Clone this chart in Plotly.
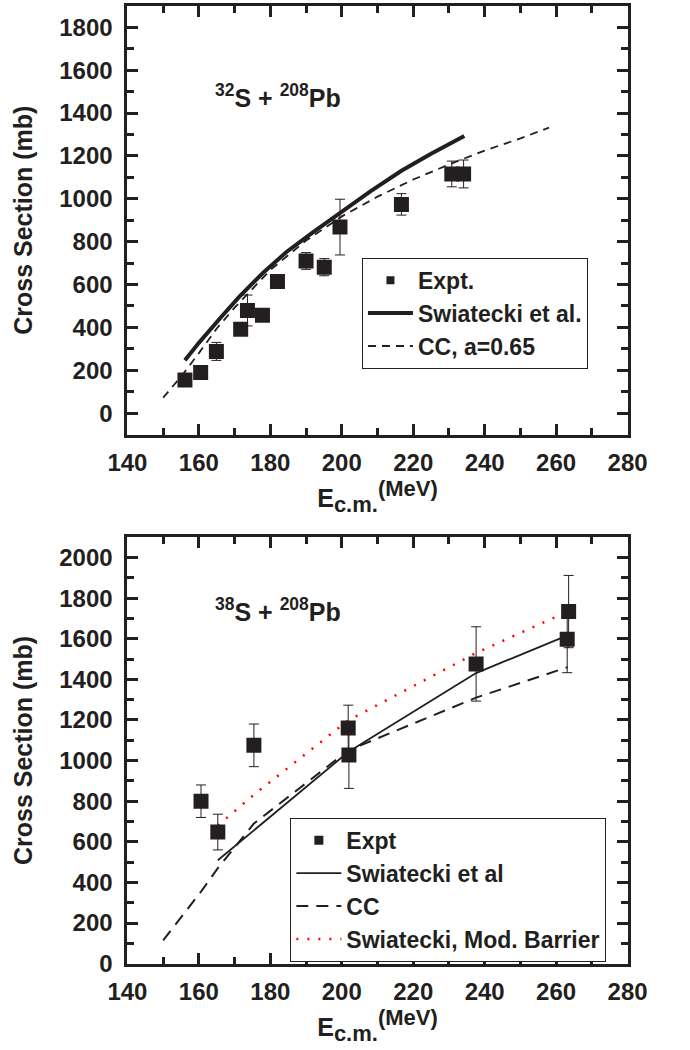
import plotly.graph_objects as go

# ---------------- data: top panel, 32S + 208Pb ----------------
e_exp_32 = [156.1, 160.5, 164.9, 171.7, 173.6, 177.8, 182.0, 190.0, 195.1, 199.5, 216.7, 230.8, 234.1]
sig_exp_32 = [155, 190, 288, 391, 479, 457, 614, 710, 681, 868, 974, 1116, 1116]
err_exp_32 = [0, 0, 42, 0, 72, 0, 0, 39, 40, 130, 50, 60, 65]

e_sw_32 = [156.1, 160.0, 166.0, 171.4, 178.0, 184.6, 192.0, 200.5, 208.0, 216.7, 225.0, 234.3]
sig_sw_32 = [247, 328, 444, 545, 655, 753, 845, 946, 1035, 1131, 1210, 1293]

e_cc_32 = [150, 155, 160, 165, 170, 180, 190, 200, 210, 220, 230, 240, 250, 258]
sig_cc_32 = [72, 170, 280, 395, 492, 668, 805, 918, 1010, 1090, 1160, 1225, 1282, 1332]

# ---------------- data: bottom panel, 38S + 208Pb ----------------
e_exp_38 = [160.6, 165.3, 175.4, 201.8, 202.0, 237.6, 263.5, 263.1]
sig_exp_38 = [800, 648, 1075, 1160, 1027, 1476, 1734, 1598]
err_exp_38 = [80, 88, 105, 113, 164, 183, 178, 165]

e_sw_38 = [165.3, 201.8, 237.6, 263.2]
sig_sw_38 = [509, 1042, 1431, 1617]

e_cc_38 = [150.0, 160.6, 165.3, 175.4, 201.8, 237.6, 263.2]
sig_cc_38 = [114, 355, 470, 690, 1050, 1310, 1460]

e_mod_38 = [165.3, 175.4, 201.8, 237.6, 263.2]
sig_mod_38 = [680, 832, 1198, 1530, 1734]

x_ticks = [140, 160, 180, 200, 220, 240, 260, 280]

INK = "#231f20"
FONT = "Liberation Sans, Arial, sans-serif"

fig = go.Figure()

# ---- top panel traces ----
fig.add_trace(go.Scatter(
    x=e_exp_32, y=sig_exp_32, mode="markers", xaxis="x", yaxis="y", showlegend=False,
    marker=dict(symbol="square", size=15, color=INK),
    error_y=dict(type="data", array=err_exp_32, thickness=1, width=5, color=INK)))
fig.add_trace(go.Scatter(
    x=e_sw_32, y=sig_sw_32, mode="lines", xaxis="x", yaxis="y", showlegend=False,
    line=dict(color=INK, width=4)))
fig.add_trace(go.Scatter(
    x=e_cc_32, y=sig_cc_32, mode="lines", xaxis="x", yaxis="y", showlegend=False,
    line=dict(color=INK, width=1.8, dash="8px,6px")))
# legend entries (top)
fig.add_trace(go.Scatter(x=[None], y=[None], mode="markers", name="Expt.", legend="legend",
                         xaxis="x", yaxis="y", marker=dict(symbol="square", size=8, color=INK)))
fig.add_trace(go.Scatter(x=[None], y=[None], mode="lines", name="Swiatecki et al.", legend="legend",
                         xaxis="x", yaxis="y", line=dict(color=INK, width=4)))
fig.add_trace(go.Scatter(x=[None], y=[None], mode="lines", name="CC, a=0.65", legend="legend",
                         xaxis="x", yaxis="y", line=dict(color=INK, width=1.8, dash="8px,6px")))

# ---- bottom panel traces ----
fig.add_trace(go.Scatter(
    x=e_mod_38, y=sig_mod_38, mode="lines", xaxis="x2", yaxis="y2", showlegend=False,
    line=dict(color="#ff0000", width=2.5, dash="2px,9px")))
fig.add_trace(go.Scatter(
    x=e_cc_38, y=sig_cc_38, mode="lines", xaxis="x2", yaxis="y2", showlegend=False,
    line=dict(color=INK, width=2, dash="12px,8px")))
fig.add_trace(go.Scatter(
    x=e_sw_38, y=sig_sw_38, mode="lines", xaxis="x2", yaxis="y2", showlegend=False,
    line=dict(color=INK, width=1.8)))
fig.add_trace(go.Scatter(
    x=e_exp_38, y=sig_exp_38, mode="markers", xaxis="x2", yaxis="y2", showlegend=False,
    marker=dict(symbol="square", size=15, color=INK),
    error_y=dict(type="data", array=err_exp_38, thickness=1, width=5, color=INK)))
# legend entries (bottom)
fig.add_trace(go.Scatter(x=[None], y=[None], mode="markers", name="Expt", legend="legend2",
                         xaxis="x2", yaxis="y2", marker=dict(symbol="square", size=9, color=INK)))
fig.add_trace(go.Scatter(x=[None], y=[None], mode="lines", name="Swiatecki et al", legend="legend2",
                         xaxis="x2", yaxis="y2", line=dict(color=INK, width=1.8)))
fig.add_trace(go.Scatter(x=[None], y=[None], mode="lines", name="CC", legend="legend2",
                         xaxis="x2", yaxis="y2", line=dict(color=INK, width=2, dash="12px,8px")))
fig.add_trace(go.Scatter(x=[None], y=[None], mode="lines", name="Swiatecki, Mod. Barrier",
                         legend="legend2", xaxis="x2", yaxis="y2",
                         line=dict(color="#ff0000", width=2.5, dash="2px,9px")))


def axis_style(domain, anchor, rng, dtick, minor_dtick, title, standoff, label_gap, tickvals=None):
    d = dict(
        domain=domain, anchor=anchor, range=rng,
        tick0=0, dtick=dtick,
        ticks="inside", ticklen=11, tickwidth=3, tickcolor=INK,
        minor=dict(ticks="inside", ticklen=7, tickwidth=3, tickcolor=INK, dtick=minor_dtick, tick0=0),
        showline=True, linewidth=3, linecolor=INK, mirror="allticks",
        showgrid=False, zeroline=False,
        ticklabelstandoff=label_gap,
        tickfont=dict(family=FONT, size=24, color=INK, weight="bold"),
        title=dict(text=title, standoff=standoff,
                   font=dict(family=FONT, size=25, color=INK, weight="bold")),
    )
    if tickvals is not None:
        d["tickmode"] = "array"
        d["tickvals"] = tickvals
    return d


xdom = [114 / 690, 645 / 690]
ytop = [1 - 440 / 1050, 1 - 6 / 1050]
ybot = [1 - 975.7 / 1050, 1 - 544 / 1050]

xtitle = ("E<sub><span style='font-size:22px'>c.m.</span></sub>"
          "<sup><span style='font-size:22px'>(MeV)</span></sup>")
ytitle = "Cross Section (mb)"

legend_font = dict(family=FONT, size=23, color=INK, weight="bold")

fig.update_layout(
    width=690, height=1050,
    margin=dict(l=0, r=0, t=0, b=0),
    paper_bgcolor="white", plot_bgcolor="white",
    showlegend=True,
    xaxis=axis_style(xdom, "y", [139.99, 280.01], 20, 10, xtitle, 9, 5, x_ticks),
    yaxis=axis_style(ytop, "x", [-100, 1900], 200, 100, ytitle, 20, 7),
    xaxis2=axis_style(xdom, "y2", [139.99, 280.01], 20, 10, xtitle, 9, 5, x_ticks),
    yaxis2=axis_style(ybot, "x2", [0, 2100], 200, 100, ytitle, 20, 7),
    legend=dict(x=363 / 690, y=1 - 261 / 1050, xanchor="left", yanchor="top",
                bordercolor=INK, borderwidth=1, bgcolor="white", font=legend_font,
                tracegroupgap=0, itemwidth=45),
    legend2=dict(x=287 / 690, y=1 - 828 / 1050, xanchor="left", yanchor="top",
                 bordercolor=INK, borderwidth=1, bgcolor="white", font=legend_font,
                 tracegroupgap=0, itemwidth=45),
    annotations=[
        dict(text="<sup>32</sup>S + <sup>208</sup>Pb", xref="paper", yref="paper",
             x=205 / 690, y=1 - 97 / 1050, xanchor="left", yanchor="middle", showarrow=False,
             font=dict(family=FONT, size=25, color=INK, weight="bold")),
        dict(text="<sup>38</sup>S + <sup>208</sup>Pb", xref="paper", yref="paper",
             x=205 / 690, y=1 - 618 / 1050, xanchor="left", yanchor="middle", showarrow=False,
             font=dict(family=FONT, size=25, color=INK, weight="bold")),
    ],
)

fig.write_html("out.html")
